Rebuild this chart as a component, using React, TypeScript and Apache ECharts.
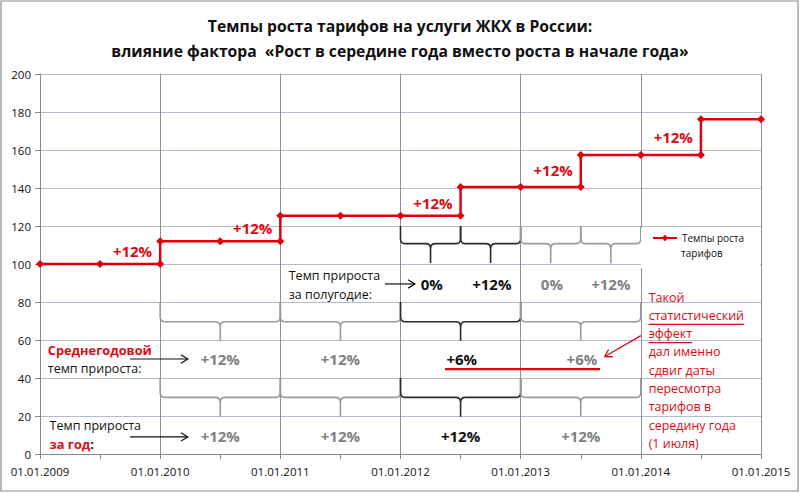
import React, { useEffect, useRef } from "react";
import * as echarts from "echarts";

const FONT = '"Open Sans", "Noto Sans", sans-serif';

// step line (fractional years, index values)
const stepX = [2009, 2009.5, 2010, 2010, 2010.5, 2011, 2011, 2011.5, 2012, 2012.5, 2012.5, 2013, 2013.5, 2013.5, 2014, 2014.5, 2014.5, 2015];
const stepY = [100, 100, 100, 112, 112, 112, 125.44, 125.44, 125.44, 125.44, 140.49, 140.49, 140.49, 157.35, 157.35, 157.35, 176.23, 176.23];

// "+12%" labels near each rise
const stepLabelText = ["+12%", "+12%", "+12%", "+12%", "+12%"];
const stepLabelX = [2009.77, 2010.77, 2012.27, 2013.27, 2014.27];
const stepLabelY = [107, 119, 132, 149.5, 167];

// half-year growth labels
const halfText = ["0%", "+12%", "0%", "+12%"];
const halfX = [2012.26, 2012.76, 2013.26, 2013.75];
const halfDark = [true, true, false, false];

// average-annual growth labels
const avgText = ["+12%", "+12%", "+6%", "+6%"];
const avgX = [2010.5, 2011.5, 2012.51, 2013.51];
const avgDark = [false, false, true, false];

// growth per year labels
const yearText = ["+12%", "+12%", "+12%", "+12%"];
const yearX = [2010.5, 2011.5, 2012.5, 2013.5];
const yearDark = [false, false, true, false];

// braces: [from, to]
const halfBraceFrom = [2012, 2012.5, 2013, 2013.5];
const halfBraceTo = [2012.5, 2013, 2013.5, 2014];
const yearBraceFrom = [2010, 2011, 2012, 2013];
const yearBraceTo = [2011, 2012, 2013, 2014];

const noteLines = ["Такой", "статистический", "эффект", "дал именно", "сдвиг даты", "пересмотра", "тарифов в", "середину года", "(1 июля)"];
const noteUnderlined = [1, 2];

const legendLines = ["Темпы роста", "тарифов"];

const xTicks = [2009, 2010, 2011, 2012, 2013, 2014, 2015];

const RED = "#e0000b";
const TXTRED = "#dd0a14";
const GRAY = "#808080";
const DARK = "#111";

function measure(text: string, font: string) {
  const c = document.createElement("canvas");
  const ctx = c.getContext("2d")!;
  ctx.font = font;
  return ctx.measureText(text).width;
}

export default function App() {
  const ref = useRef<HTMLDivElement>(null);
  useEffect(() => {
    document.body.style.margin = "0";
    const chart = echarts.init(ref.current!, null, { renderer: "svg" });

    const renderItem = (params: any, api: any) => {
      if (params.dataIndex !== 0) return null;
      const P = (x: number, y: number) => api.coord([x, y]);
      const ch: any[] = [];

      const txt = (x: number, y: number, text: string, color: string, size: number, bold: boolean, align = "center") => {
        const p = P(x, y);
        ch.push({
          type: "text",
          style: { text, x: p[0], y: p[1], fill: color, fontSize: size, fontWeight: bold ? "bold" : "normal", fontFamily: FONT, align, verticalAlign: "middle" },
        });
      };
      const arrow = (x0: number, y0: number, x1: number, y1: number, color: string, w: number) => {
        const a = P(x0, y0);
        const b = P(x1, y1);
        ch.push({ type: "line", shape: { x1: a[0], y1: a[1], x2: b[0], y2: b[1] }, style: { stroke: color, lineWidth: w } });
        const ang = Math.atan2(b[1] - a[1], b[0] - a[0]);
        const L = 8;
        const s = 0.55;
        ch.push({
          type: "polyline",
          shape: {
            points: [
              [b[0] - L * Math.cos(ang - s), b[1] - L * Math.sin(ang - s)],
              [b[0], b[1]],
              [b[0] - L * Math.cos(ang + s), b[1] - L * Math.sin(ang + s)],
            ],
          },
          style: { stroke: color, lineWidth: w, fill: "none" },
        });
      };
      const brace = (x0: number, x1: number, yTop: number, yMid: number, yTip: number, color: string) => {
        const a = P(x0, yTop);
        const b = P(x1, yTop);
        const pm = P((x0 + x1) / 2, yMid);
        const tip = P(x0, yTip)[1];
        const t = a[1];
        const m = pm[1];
        const xm = pm[0];
        const r = 5;
        const d =
          `M${a[0]},${t} L${a[0]},${m - r} Q${a[0]},${m} ${a[0] + r},${m} L${xm - r},${m} ` +
          `Q${xm},${m} ${xm},${m + r} L${xm},${tip} M${xm},${m + r} Q${xm},${m} ${xm + r},${m} ` +
          `L${b[0] - r},${m} Q${b[0]},${m} ${b[0]},${m - r} L${b[0]},${t}`;
        ch.push({ type: "path", shape: { pathData: d }, style: { stroke: color, lineWidth: 1.6, fill: "none" } });
      };

      halfBraceFrom.forEach((f, i) => brace(f, halfBraceTo[i], 120, 110.7, 100.5, halfDark[i] ? "#2a2a2a" : "#9a9a9a"));
      yearBraceFrom.forEach((f, i) => {
        brace(f, yearBraceTo[i], 80, 69.6, 59.6, avgDark[i] ? "#2a2a2a" : "#9a9a9a");
        brace(f, yearBraceTo[i], 40, 29.8, 19.6, yearDark[i] ? "#2a2a2a" : "#9a9a9a");
      });

      stepLabelText.forEach((t, i) => txt(stepLabelX[i], stepLabelY[i], t, TXTRED, 15, true));
      halfText.forEach((t, i) => txt(halfX[i], 89.5, t, halfDark[i] ? DARK : GRAY, 15, true));
      avgText.forEach((t, i) => txt(avgX[i], 50, t, avgDark[i] ? DARK : GRAY, 15, true));
      yearText.forEach((t, i) => txt(yearX[i], 9.5, t, yearDark[i] ? DARK : GRAY, 15, true));

      // left captions
      txt(2011.07, 94.2, "Темп прироста", DARK, 12.5, false, "left");
      txt(2011.07, 83.7, "за полугодие:", DARK, 12.5, false, "left");
      arrow(2011.87, 89.5, 2012.12, 89.5, DARK, 1.2);

      txt(2009.065, 54.5, "Среднегодовой", TXTRED, 12.8, true, "left");
      txt(2009.065, 45.2, "темп прироста:", DARK, 12.5, false, "left");
      arrow(2009.75, 50, 2010.23, 50, DARK, 1.2);

      txt(2009.08, 14.8, "Темп прироста", DARK, 12.5, false, "left");
      {
        const p = P(2009.08, 5.3);
        ch.push({
          type: "text",
          style: {
            text: "{r|за год}{k|:}",
            x: p[0], y: p[1], align: "left", verticalAlign: "middle",
            rich: {
              r: { fill: TXTRED, fontSize: 12.8, fontWeight: "bold", fontFamily: FONT },
              k: { fill: DARK, fontSize: 12.8, fontWeight: "bold", fontFamily: FONT },
            },
          },
        });
      }
      arrow(2009.75, 9, 2010.23, 9, DARK, 1.2);

      // red underline under +6%
      {
        const a = P(2012.37, 44.7);
        const b = P(2013.66, 44.7);
        ch.push({ type: "line", shape: { x1: a[0], y1: a[1], x2: b[0], y2: b[1] }, style: { stroke: RED, lineWidth: 2.2 } });
      }

      // red note
      const n0 = P(2014.065, 82.6);
      const step = 18.3;
      const noteFont = `12.5px ${FONT}`;
      noteLines.forEach((line, i) => {
        const y = n0[1] + i * step;
        ch.push({
          type: "text",
          style: { text: line, x: n0[0], y, fill: TXTRED, fontSize: 12.5, fontFamily: FONT, align: "left", verticalAlign: "middle" },
        });
        if (noteUnderlined.includes(i)) {
          const w = measure(line, noteFont);
          ch.push({ type: "line", shape: { x1: n0[0], y1: y + 9, x2: n0[0] + w, y2: y + 9 }, style: { stroke: TXTRED, lineWidth: 1.2 } });
        }
      });
      arrow(2014.0, 62.3, 2013.7, 51.3, TXTRED, 1.3);

      return { type: "group", children: ch };
    };

    // legend box layout
    const LG_LEFT = 641;
    const LG_TOP = 228;
    const LG_PAD_L = 11;
    const LG_ICON_W = 24;
    const LG_GAP = 5;
    const LG_PAD_T = 2.5;
    const LG_LINE = 15;

    chart.setOption({
      animation: false,
      backgroundColor: "#fff",
      title: {
        text: "Темпы роста тарифов на услуги ЖКХ в России:\nвлияние фактора  «Рост в середине года вместо роста в начале года»",
        left: "center",
        top: 8,
        textStyle: { fontFamily: FONT, fontSize: 15.7, fontWeight: "bold", color: "#111", lineHeight: 25 },
      },
      graphic: [
        { type: "rect", shape: { x: 1, y: 1, width: 797, height: 490 }, style: { fill: "none", stroke: "#8c8c8c", lineWidth: 1.2 }, silent: true, z: 100 },
        {
          type: "text",
          x: LG_LEFT + LG_PAD_L + LG_ICON_W + LG_GAP,
          y: LG_TOP + LG_PAD_T + LG_LINE / 2 + LG_LINE,
          style: { text: legendLines[1], fill: "#111", fontSize: 10, fontFamily: FONT, align: "left", verticalAlign: "middle" },
          silent: true,
          z: 100,
        },
      ],
      legend: {
        data: ["Темпы роста тарифов"],
        left: LG_LEFT,
        top: LG_TOP,
        itemWidth: LG_ICON_W,
        itemHeight: 8,
        itemGap: LG_GAP,
        backgroundColor: "#fff",
        padding: [LG_PAD_T, 16, 22.5, LG_PAD_L],
        formatter: () => legendLines[0],
        textStyle: { fontFamily: FONT, fontSize: 10, color: "#111", lineHeight: LG_LINE },
      },
      grid: { left: 40, right: 39, top: 74, bottom: 39 },
      xAxis: {
        type: "value",
        min: xTicks[0],
        max: xTicks[xTicks.length - 1],
        interval: 1,
        axisLine: { show: true, lineStyle: { color: "#8a8a8a", width: 1 } },
        axisTick: { show: true, length: 5, lineStyle: { color: "#8a8a8a" } },
        minorTick: { show: true, splitNumber: 2, length: 5, lineStyle: { color: "#8a8a8a" } },
        splitLine: { show: true, lineStyle: { color: "#8f8f8f", width: 1 } },
        axisLabel: { formatter: (v: number) => "01.01." + v, fontFamily: FONT, fontSize: 11.5, color: "#111", margin: 11 },
      },
      yAxis: {
        type: "value",
        min: 0,
        max: 200,
        interval: 20,
        axisLine: { show: true, lineStyle: { color: "#8a8a8a", width: 1 } },
        axisTick: { show: true, length: 5, lineStyle: { color: "#8a8a8a" } },
        splitLine: { show: true, lineStyle: { color: "#b3bccb", width: 1 } },
        axisLabel: { fontFamily: FONT, fontSize: 11.5, color: "#111", margin: 9 },
      },
      series: [
        {
          type: "custom",
          name: "annotations",
          silent: true,
          clip: false,
          z: 1,
          data: [[2009, 0]],
          renderItem,
        },
        {
          type: "line",
          name: "Темпы роста тарифов",
          data: stepX.map((x, i) => [x, stepY[i]]),
          symbol: "diamond",
          symbolSize: 8,
          z: 5,
          lineStyle: { color: RED, width: 2.5 },
          itemStyle: { color: RED },
        },
      ],
    });
    return () => chart.dispose();
  }, []);
  return <div ref={ref} style={{ width: 800, height: 493 }} />;
}
